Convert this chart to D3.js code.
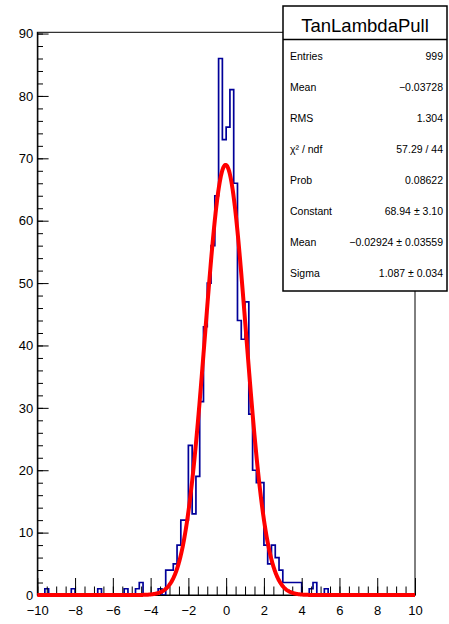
<!DOCTYPE html>
<html>
<head>
<meta charset="utf-8">
<script src="https://cdn.jsdelivr.net/npm/d3@7"></script>
<style>
  body { margin: 0; background: #fff; }
  svg text { font-family: "Liberation Sans", Arial, Helvetica, sans-serif; }
</style>
</head>
<body>
<div id="chart"></div>
<script>
// histogram TanLambdaPull, 100 bins from -10 to 10
const xMin = -10, xMax = 10, binWidth = 0.2;
const counts = [
  0, 0, 1, 0, 0, 0, 0, 0, 0, 1,
  0, 0, 0, 0, 0, 0, 1, 0, 0, 0,
  0, 0, 0, 1, 0, 0, 1, 2, 0, 0,
  0, 0, 1, 0, 4, 4, 5, 8, 12, 12,
  24, 13, 19, 31, 43, 50, 56, 64, 86, 73,
  75, 81, 66, 44, 41, 47, 29, 20, 18, 18,
  8, 5, 8, 6, 4, 2, 2, 2, 2, 2,
  0, 0, 1, 2, 0, 0, 1, 0, 0, 0,
  0, 0, 0, 0, 0, 0, 0, 0, 0, 0,
  0, 0, 0, 0, 0, 0, 0, 0, 0, 0
];

// gaussian fit result (from stats box)
const fitConstant = 68.94, fitMean = -0.02924, fitSigma = 1.087;

const statLabels = ["Entries", "Mean", "RMS", "χ² / ndf", "Prob", "Constant", "Mean", "Sigma"];
const statValues = ["999", "\u22120.03728", "1.304", "57.29 / 44", "0.08622",
  "68.94 \u00b1 3.10", "\u22120.02924 \u00b1 0.03559", "1.087 \u00b1 0.034"];

const xMajorTicks = [-10, -8, -6, -4, -2, 0, 2, 4, 6, 8, 10];
const yMajorTicks = [0, 10, 20, 30, 40, 50, 60, 70, 80, 90];

const W = 449, H = 624;
const frame = { left: 37.3, right: 415, top: 32.3, bottom: 595 };

const svg = d3.select("#chart")
  .append("svg")
  .attr("width", W)
  .attr("height", H);

svg.append("rect").attr("width", W).attr("height", H).attr("fill", "#fff");

const x = d3.scaleLinear().domain([xMin, xMax]).range([frame.left, frame.right]);
const y = d3.scaleLinear().domain([0, 90.2]).range([frame.bottom, frame.top]);

// frame
svg.append("rect")
  .attr("x", frame.left)
  .attr("y", frame.top)
  .attr("width", frame.right - frame.left)
  .attr("height", frame.bottom - frame.top)
  .attr("fill", "none")
  .attr("stroke", "#000")
  .attr("stroke-width", 1);

// histogram outline
const pts = [[xMin, 0]];
counts.forEach((c, i) => {
  const lo = xMin + i * binWidth;
  pts.push([lo, c], [lo + binWidth, c]);
});
pts.push([xMax, 0]);

svg.append("path")
  .datum(pts)
  .attr("fill", "none")
  .attr("stroke", "#000099")
  .attr("stroke-width", 1.7)
  .attr("d", d3.line().x(d => x(d[0])).y(d => y(d[1])));

// axes
const fmt = d => d < 0 ? "\u2212" + Math.abs(d) : String(d);

const xMinor = d3.range(xMin, xMax + 0.001, 0.5);
svg.append("g")
  .attr("transform", `translate(0,${frame.bottom})`)
  .call(d3.axisBottom(x).tickValues(xMinor).tickSizeInner(-8.5).tickSizeOuter(0).tickFormat(""))
  .call(g => g.select(".domain").remove());

const xAxis = svg.append("g")
  .attr("transform", `translate(0,${frame.bottom})`)
  .call(d3.axisBottom(x).tickValues(xMajorTicks).tickSizeInner(-17).tickSizeOuter(0).tickPadding(11).tickFormat(fmt));
xAxis.selectAll("text").style("font-size", "13px").attr("fill", "#000");

const yMinor = d3.range(0, 90.01, 2);
svg.append("g")
  .attr("transform", `translate(${frame.left},0)`)
  .call(d3.axisLeft(y).tickValues(yMinor).tickSizeInner(-5.7).tickSizeOuter(0).tickFormat(""))
  .call(g => g.select(".domain").remove());

const yAxis = svg.append("g")
  .attr("transform", `translate(${frame.left},0)`)
  .call(d3.axisLeft(y).tickValues(yMajorTicks).tickSizeInner(-11.3).tickSizeOuter(0).tickPadding(4).tickFormat(fmt));
yAxis.selectAll("text").style("font-size", "13px").attr("fill", "#000");

svg.selectAll(".tick line").attr("stroke", "#000").attr("stroke-width", 1);
svg.selectAll(".domain").attr("stroke", "#000").attr("stroke-width", 1.2);

// gaussian fit curve
const fitX = d3.range(xMin, xMax + 0.0001, 0.02);
svg.append("path")
  .datum(fitX)
  .attr("fill", "none")
  .attr("stroke", "#ff0000")
  .attr("stroke-width", 4)
  .attr("d", d3.line()
    .x(d => x(d))
    .y(d => y(fitConstant * Math.exp(-0.5 * Math.pow((d - fitMean) / fitSigma, 2)))));

// stats box
const box = { x: 283, y: 6, w: 164, h: 285, titleH: 33.5 };
const stats = svg.append("g");
stats.append("rect")
  .attr("x", box.x).attr("y", box.y)
  .attr("width", box.w).attr("height", box.h)
  .attr("fill", "#fff")
  .attr("stroke", "#000")
  .attr("stroke-width", 1.5);
stats.append("line")
  .attr("x1", box.x).attr("x2", box.x + box.w)
  .attr("y1", box.y + box.titleH).attr("y2", box.y + box.titleH)
  .attr("stroke", "#000")
  .attr("stroke-width", 1.5);
stats.append("text")
  .attr("x", box.x + box.w / 2)
  .attr("y", 31.5)
  .attr("text-anchor", "middle")
  .style("font-size", "18.5px")
  .text("TanLambdaPull");

statLabels.forEach((lab, i) => {
  const yy = 60 + i * 31;
  stats.append("text")
    .attr("x", 290)
    .attr("y", yy)
    .style("font-size", "10.5px")
    .text(lab);
  stats.append("text")
    .attr("x", 443)
    .attr("y", yy)
    .attr("text-anchor", "end")
    .style("font-size", "10.5px")
    .text(statValues[i]);
});
</script>
</body>
</html>
